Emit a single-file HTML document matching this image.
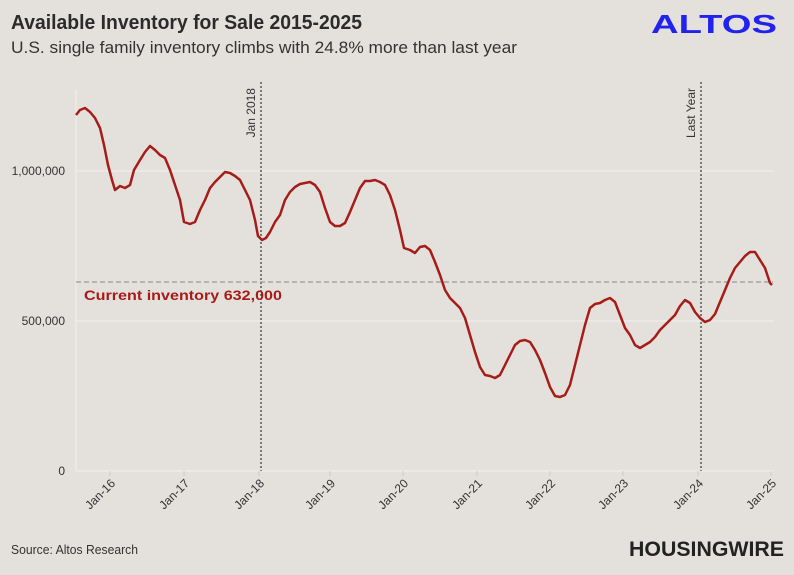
<!DOCTYPE html>
<html><head><style>
body{margin:0;background:#e4e1dd;}
svg{display:block;font-family:"Liberation Sans",sans-serif;}
</style></head><body>
<svg width="794" height="575" viewBox="0 0 794 575">
<rect width="794" height="575" fill="#e4e1dd"/>
<text x="11" y="29" font-size="20" font-weight="bold" fill="#2b2b2b" textLength="351" lengthAdjust="spacingAndGlyphs">Available Inventory for Sale 2015-2025</text>
<text x="11" y="53" font-size="17" fill="#333" textLength="506" lengthAdjust="spacingAndGlyphs">U.S. single family inventory climbs with 24.8% more than last year</text>
<text x="651" y="33" font-size="26" font-weight="bold" fill="#2222ee" textLength="126" lengthAdjust="spacingAndGlyphs">ALTOS</text>
<g stroke="#f2f0ee" stroke-width="1">
<line x1="76" y1="171" x2="773" y2="171"/><line x1="76" y1="321" x2="773" y2="321"/>
<line x1="76" y1="471" x2="773" y2="471"/><line x1="76" y1="90" x2="76" y2="471"/>
</g>
<g font-size="12" fill="#333" text-anchor="end">
<text x="65" y="175">1,000,000</text><text x="65" y="325">500,000</text><text x="65" y="475">0</text>
</g>
<g stroke="#ccc"><line x1="110" y1="471" x2="110" y2="476"/><line x1="184" y1="471" x2="184" y2="476"/><line x1="259" y1="471" x2="259" y2="476"/><line x1="330" y1="471" x2="330" y2="476"/><line x1="403" y1="471" x2="403" y2="476"/><line x1="477" y1="471" x2="477" y2="476"/><line x1="550" y1="471" x2="550" y2="476"/><line x1="623" y1="471" x2="623" y2="476"/><line x1="698" y1="471" x2="698" y2="476"/><line x1="771" y1="471" x2="771" y2="476"/></g>
<g font-size="12" fill="#333" text-anchor="end">
<text transform="translate(116,484) rotate(-45)">Jan-16</text>
<text transform="translate(190,484) rotate(-45)">Jan-17</text>
<text transform="translate(265,484) rotate(-45)">Jan-18</text>
<text transform="translate(336,484) rotate(-45)">Jan-19</text>
<text transform="translate(409,484) rotate(-45)">Jan-20</text>
<text transform="translate(483,484) rotate(-45)">Jan-21</text>
<text transform="translate(556,484) rotate(-45)">Jan-22</text>
<text transform="translate(629,484) rotate(-45)">Jan-23</text>
<text transform="translate(704,484) rotate(-45)">Jan-24</text>
<text transform="translate(777,484) rotate(-45)">Jan-25</text>
</g>
<g stroke="#333" stroke-dasharray="2,2" stroke-width="1.2">
<line x1="261" y1="82" x2="261" y2="471"/><line x1="701" y1="82" x2="701" y2="471"/>
</g>
<g font-size="12" fill="#333" text-anchor="end">
<text transform="translate(255,88) rotate(-90)">Jan 2018</text>
<text transform="translate(695,88) rotate(-90)">Last Year</text>
</g>
<line x1="76" y1="282" x2="773" y2="282" stroke="#999" stroke-dasharray="5,3" stroke-width="1.2"/>
<text x="84" y="300" font-size="14" font-weight="bold" fill="#a61c18" textLength="198" lengthAdjust="spacingAndGlyphs">Current inventory 632,000</text>
<polyline fill="none" stroke="#a61c18" stroke-width="2.5" stroke-linejoin="round" points="76,115 80,110 85,108 90,112 95,118 100,128 104,145 108,165 112,180 115,190 120,186 125,188 130,185 134,170 140,160 145,152 150,146 155,150 160,155 165,158 170,170 175,185 180,200 184,222 190,224 195,222 200,210 205,200 210,188 215,182 220,177 225,172 230,173 235,176 240,180 245,190 250,200 255,220 258,236 262,240 266,238 270,232 275,222 280,215 285,200 290,192 295,187 300,184 305,183 310,182 315,185 320,192 325,208 330,222 335,226 340,226 345,223 350,212 355,200 360,188 365,181 370,181 375,180 380,182 385,185 390,195 395,210 400,230 404,248 410,250 415,253 420,247 425,246 430,250 435,262 440,275 445,290 450,298 455,303 460,308 465,318 470,335 475,352 480,367 485,375 490,376 495,378 500,375 505,365 510,355 515,345 520,341 525,340 530,342 535,350 540,360 545,373 550,387 555,396 560,397 565,395 570,385 575,365 580,345 585,325 590,308 595,304 600,303 605,300 610,298 615,302 620,315 625,328 630,335 635,345 640,348 645,345 650,342 655,337 660,330 665,325 670,320 675,315 680,306 685,300 690,303 695,312 700,318 705,322 710,320 715,314 720,302 725,290 730,278 735,268 740,262 745,256 750,252 755,252 760,260 765,268 770,283 772,285"/>
<text x="11" y="554" font-size="13" fill="#333" textLength="127" lengthAdjust="spacingAndGlyphs">Source: Altos Research</text>
<text x="629" y="556" font-size="21" font-weight="bold" fill="#222" textLength="155" lengthAdjust="spacingAndGlyphs">HOUSINGWIRE</text>
</svg>
</body></html>
